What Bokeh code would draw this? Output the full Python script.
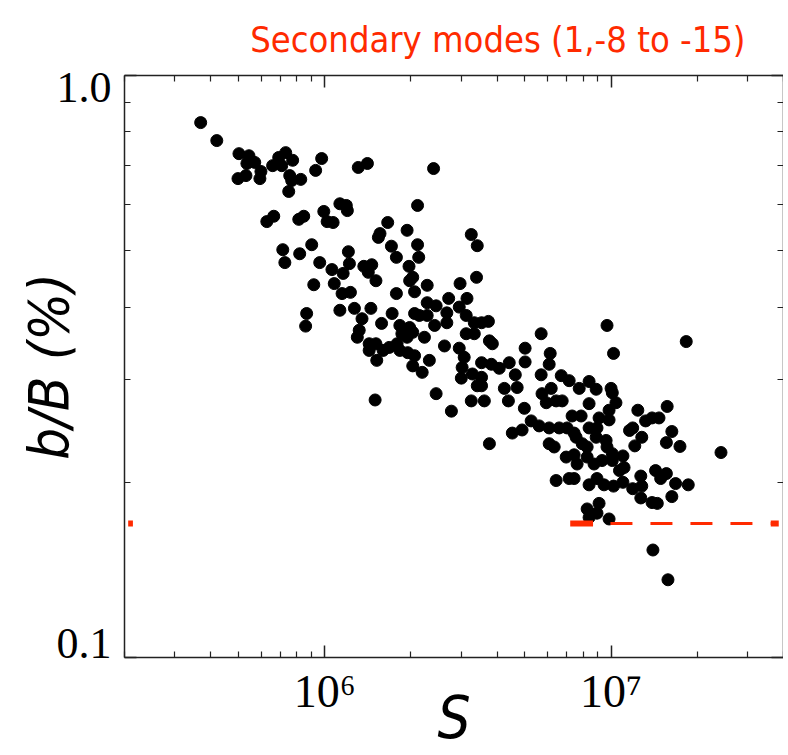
from bokeh.plotting import figure
from bokeh.models import Range1d, LogAxis, LogScale, FixedTicker
from bokeh.embed import file_html
from bokeh.resources import INLINE

# ---- data ----
S = [3.69e5, 4.20e5, 5.02e5, 5.44e5, 5.35e5, 5.70e5, 5.99e5, 5.31e5, 4.98e5, 5.94e5,
     6.58e5, 6.91e5, 7.31e5, 7.73e5, 7.08e5, 7.55e5, 7.67e5, 8.25e5, 7.49e5, 9.30e5,
     9.76e5, 1.31e6, 1.41e6, 2.40e6, 6.64e5, 6.28e5, 8.45e5, 8.12e5, 9.93e5, 1.02e6,
     1.07e6, 1.13e6, 1.20e6, 1.19e6, 1.66e6, 2.11e6, 1.56e6, 1.54e6, 1.94e6, 1.71e6,
     1.78e6, 2.11e6, 2.13e6, 1.97e6, 3.25e6, 7.14e5, 7.26e5, 8.18e5, 9.01e5, 9.61e5,
     1.06e6, 1.21e6, 1.22e6, 1.16e6, 1.08e6, 9.16e5, 1.15e6, 1.23e6, 1.37e6, 1.46e6,
     1.42e6, 1.51e6, 1.98e6, 2.03e6, 2.28e6, 1.78e6, 2.06e6, 2.97e6, 2.71e6, 3.39e6,
     3.41e6,
     2.28e6, 2.45e6, 3.14e6, 2.95e6, 1.45e6, 1.27e6, 1.13e6, 1.35e6, 1.72e6, 2.06e6,
     2.14e6, 2.28e6, 2.42e6, 2.67e6, 2.67e6, 3.12e6, 3.33e6, 8.65e5, 8.58e5, 1.32e6,
     1.30e6, 1.43e6, 1.51e6, 1.58e6, 1.83e6, 1.86e6, 1.94e6, 1.98e6, 2.03e6, 2.23e6,
     2.62e6, 2.95e6, 3.12e6, 3.33e6, 1.43e6, 1.60e6, 1.68e6, 1.79e6, 1.83e6, 1.95e6,
     2.06e6, 1.52e6, 2.03e6, 2.19e6, 2.32e6, 3.07e6, 3.02e6, 3.28e6, 3.00e6, 3.41e6,
     3.25e6, 2.45e6, 2.77e6, 1.50e6,
     3.53e6, 3.73e6, 5.70e6, 9.68e6, 1.83e7, 3.76e6, 3.85e6, 5.01e6, 5.01e6, 6.13e6,
     6.08e6, 1.02e7, 3.53e6, 3.53e6, 3.53e6, 3.61e6, 3.82e6, 4.07e6, 4.41e6, 4.63e6,
     4.38e6, 4.24e6, 4.70e6, 4.98e6, 5.70e6, 6.18e6, 6.70e6, 7.14e6, 7.74e6, 8.38e6,
     8.87e6, 1.00e7, 1.01e7, 1.04e7, 5.74e6, 5.94e6, 6.43e6, 6.75e6, 7.31e6, 7.86e6,
     8.38e6, 9.08e6, 9.84e6, 9.84e6, 4.52e6, 4.89e6, 5.26e6, 5.61e6, 6.08e6, 6.59e6,
     7.02e6, 7.55e6, 8.38e6, 8.93e6, 3.76e6, 6.08e6, 6.33e6, 7.43e6, 7.93e6, 8.25e6,
     8.87e6, 9.61e6, 9.68e6, 1.01e7, 6.97e6, 7.43e6, 7.61e6, 8.25e6, 8.72e6, 9.30e6,
     1.01e7, 1.10e7, 1.11e7, 1.07e7, 1.24e7, 1.32e7, 1.39e7, 1.47e7, 1.57e7, 1.16e7,
     1.19e7, 1.28e7, 1.21e7, 1.56e7, 1.63e7, 1.74e7, 2.42e7, 6.43e6, 7.14e6, 7.43e6,
     8.38e6, 8.93e6, 9.45e6, 1.02e7, 1.10e7, 1.19e7, 1.27e7, 1.28e7, 1.27e7, 1.43e7,
     1.49e7, 1.56e7, 1.68e7, 1.86e7, 1.63e7, 1.39e7, 1.45e7, 8.25e6, 9.08e6, 8.93e6,
     9.84e6, 8.38e6, 1.40e7, 1.58e7]

b_over_B = [0.830, 0.773, 0.734, 0.728, 0.706, 0.709, 0.684, 0.673, 0.665, 0.665,
            0.700, 0.723, 0.737, 0.715, 0.700, 0.673, 0.660, 0.663, 0.632, 0.687,
            0.720, 0.695, 0.706, 0.692, 0.573, 0.561, 0.573, 0.566, 0.584, 0.561,
            0.559, 0.602, 0.586, 0.598, 0.559, 0.598, 0.535, 0.527, 0.542, 0.509,
            0.487, 0.512, 0.487, 0.470, 0.533, 0.502, 0.477, 0.494, 0.512, 0.477,
            0.464, 0.498, 0.475, 0.457, 0.439, 0.437, 0.422, 0.424, 0.470, 0.473,
            0.459, 0.444, 0.444, 0.450, 0.436, 0.422, 0.425, 0.439, 0.414, 0.450,
            0.510,
            0.407, 0.402, 0.414, 0.400, 0.398, 0.398, 0.395, 0.382, 0.390, 0.390,
            0.387, 0.387, 0.372, 0.391, 0.376, 0.387, 0.376, 0.390, 0.371, 0.365,
            0.355, 0.346, 0.346, 0.375, 0.372, 0.360, 0.355, 0.369, 0.362, 0.355,
            0.343, 0.340, 0.360, 0.360, 0.337, 0.337, 0.341, 0.346, 0.337, 0.334,
            0.330, 0.324, 0.317, 0.309, 0.324, 0.328, 0.315, 0.307, 0.302, 0.293,
            0.276, 0.284, 0.265, 0.277,
            0.376, 0.378, 0.360, 0.372, 0.349, 0.350, 0.346, 0.340, 0.322, 0.333,
            0.319, 0.333, 0.321, 0.303, 0.293, 0.276, 0.319, 0.314, 0.321, 0.306,
            0.276, 0.290, 0.291, 0.268, 0.306, 0.290, 0.305, 0.299, 0.290, 0.298,
            0.289, 0.290, 0.285, 0.274, 0.284, 0.274, 0.276, 0.276, 0.260, 0.260,
            0.273, 0.258, 0.266, 0.256, 0.243, 0.246, 0.255, 0.250, 0.248, 0.248,
            0.248, 0.239, 0.248, 0.248, 0.233, 0.233, 0.230, 0.243, 0.233, 0.230,
            0.239, 0.236, 0.230, 0.224, 0.221, 0.223, 0.215, 0.221, 0.215, 0.218,
            0.218, 0.222, 0.212, 0.2095, 0.266, 0.255, 0.258, 0.258, 0.270, 0.2455,
            0.248, 0.239, 0.231, 0.234, 0.2445, 0.2305, 0.225, 0.2014, 0.203, 0.203,
            0.198, 0.203, 0.198, 0.197, 0.200, 0.195, 0.205, 0.197, 0.188, 0.2095,
            0.203, 0.207, 0.199, 0.198, 0.189, 0.1846, 0.184, 0.180, 0.184, 0.177,
            0.173, 0.174, 0.153, 0.136]

threshold_level = 0.17
threshold_thick_start = [2.06e5, 7.2e6, 3.61e7]
threshold_thick_end = [2.14e5, 8.65e6, 3.85e7]
threshold_dash_S = [9.95e6, 3.61e7]

x_major_ticks = [1e6, 1e7]
x_minor_ticks = [2e5, 3e5, 4e5, 5e5, 6e5, 7e5, 8e5, 9e5,
                 2e6, 3e6, 4e6, 5e6, 6e6, 7e6, 8e6, 9e6,
                 2e7, 3e7, 4e7]
x_tick_labels = ["10\u2076", "10\u2077"]
y_major_ticks = [0.1, 1.0]
y_minor_ticks = [0.2, 0.3, 0.4, 0.5, 0.6, 0.7, 0.8, 0.9]
y_tick_labels = ["0.1", "1.0"]

TITLE = "Secondary modes (1,-8 to -15)"
X_LABEL = "S"
Y_LABEL = "b/B (%)"
RED = "#ff2a00"
AX = "#222222"
SANS = "DejaVu Sans Condensed"
SERIF = "Liberation Serif"

p = figure(frame_width=659, frame_height=582,
           x_axis_type="log", y_axis_type="log",
           x_axis_location=None, y_axis_location=None,
           x_range=Range1d(2e5, 4e7), y_range=Range1d(0.1, 1.0),
           output_backend="svg", toolbar_location=None,
           min_border_left=124, min_border_top=75,
           min_border_right=0, min_border_bottom=98,
           title=TITLE)
p.center = []            # no grid lines
p.outline_line_color = None
p.background_fill_color = "white"
p.border_fill_color = "white"

p.title.text_font = SANS
p.title.text_font_size = "36px"
p.title.text_font_style = "normal"
p.title.text_color = RED
p.title.align = "right"
p.title.vertical_align = "bottom"
p.title.offset = 38
p.title.standoff = 32

# label-positioning range for the y tick labels
p.extra_y_ranges = {"lab": Range1d(0.09417, 1.051)}
p.extra_y_scales = {"lab": LogScale()}


def frame_axis(ticks, minor, **kw):
    ax = LogAxis(ticker=FixedTicker(ticks=ticks, minor_ticks=minor), **kw)
    ax.axis_line_color = AX
    ax.axis_line_width = 1.5
    ax.major_tick_in = 12
    ax.major_tick_out = 0
    ax.minor_tick_in = 6
    ax.minor_tick_out = 0
    ax.major_tick_line_color = AX
    ax.major_tick_line_width = 1.5
    ax.minor_tick_line_color = AX
    ax.minor_tick_line_width = 1.2
    return ax


def hide_labels(ax, ticks):
    ax.major_label_overrides = {t: "" for t in ticks}
    ax.major_label_standoff = 0
    return ax


# bottom axis with tick labels and the axis title
xb = frame_axis(x_major_ticks, x_minor_ticks)
xb.major_label_overrides = dict(zip(x_major_ticks, x_tick_labels))
xb.major_label_text_font = SERIF
xb.major_label_text_font_size = "46px"
xb.major_label_text_color = "black"
xb.major_label_standoff = 8
xb.axis_label = X_LABEL
xb.axis_label_text_font = SANS
xb.axis_label_text_font_style = "italic"
xb.axis_label_text_font_size = "58px"
xb.axis_label_text_color = "black"
xb.axis_label_standoff = -36
p.add_layout(xb, "below")

# top and right: ticks only
p.add_layout(hide_labels(frame_axis(x_major_ticks, x_minor_ticks), x_major_ticks), "above")
p.add_layout(hide_labels(frame_axis(y_major_ticks, y_minor_ticks), y_major_ticks), "right")

# left: ticks axis on the frame, tick-label axis outside it
p.add_layout(hide_labels(frame_axis(y_major_ticks, y_minor_ticks), y_major_ticks), "left")

yl = LogAxis(y_range_name="lab", ticker=FixedTicker(ticks=y_major_ticks, minor_ticks=[]))
yl.axis_line_color = None
yl.major_tick_line_color = None
yl.minor_tick_line_color = None
yl.major_tick_in = 0
yl.major_tick_out = 0
yl.minor_tick_in = 0
yl.minor_tick_out = 0
yl.major_label_overrides = dict(zip(y_major_ticks, y_tick_labels))
yl.major_label_text_font = SERIF
yl.major_label_text_font_size = "44px"
yl.major_label_text_color = "black"
yl.major_label_standoff = 13
yl.axis_label = Y_LABEL
yl.axis_label_text_font = SANS
yl.axis_label_text_font_style = "italic"
yl.axis_label_text_font_size = "56px"
yl.axis_label_text_color = "black"
yl.axis_label_standoff = -27
p.add_layout(yl, "left")

# data
p.scatter(S, b_over_B, size=12, marker="circle", color="black")

n = len(threshold_thick_start)
p.segment(x0=threshold_thick_start, y0=[threshold_level] * n,
          x1=threshold_thick_end, y1=[threshold_level] * n,
          line_width=6, line_color=RED, line_cap="butt")
p.line(threshold_dash_S, [threshold_level] * len(threshold_dash_S),
       line_width=3, line_color=RED, line_dash="22 18")

with open("out.html", "w", encoding="utf-8") as f:
    f.write(file_html(p, INLINE))
